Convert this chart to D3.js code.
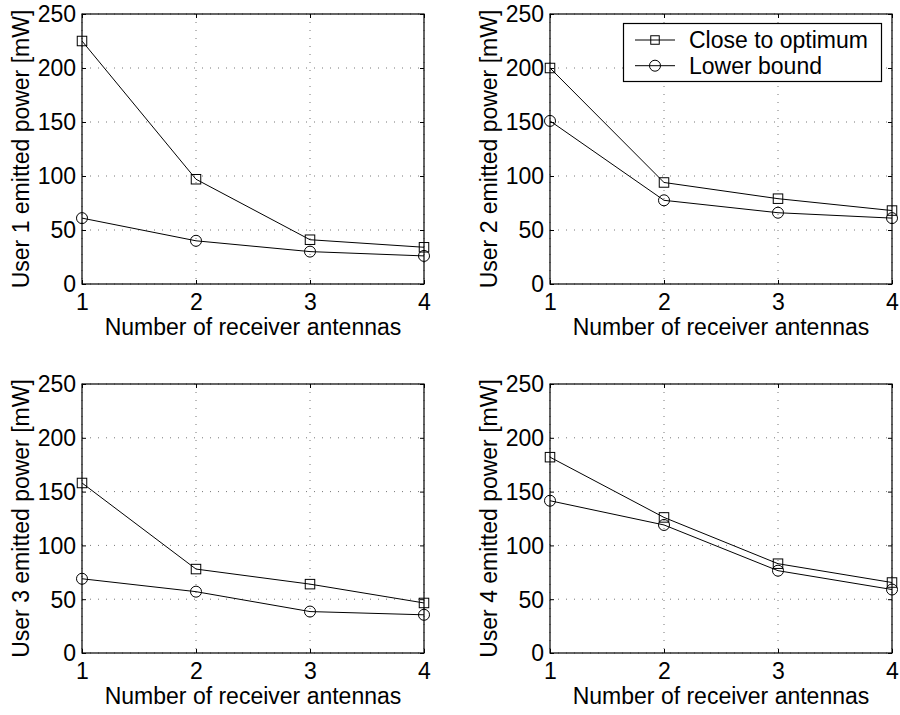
<!DOCTYPE html>
<html>
<head>
<meta charset="utf-8">
<script src="https://cdn.jsdelivr.net/npm/d3@7"></script>
<style>
  html, body { margin: 0; padding: 0; background: #fff; }
  svg text { font-family: "Liberation Sans", Arial, Helvetica, sans-serif; fill: #000; }
</style>
</head>
<body>
<svg id="chart" width="900" height="715"></svg>
<script>
// ---- data ----
const antennas = [1, 2, 3, 4];
const yTicks = [0, 50, 100, 150, 200, 250];
const xTicks = [1, 2, 3, 4];
const seriesNames = ["Close to optimum", "Lower bound"];
const userLabels = ["User 1 emitted power [mW]", "User 2 emitted power [mW]",
                    "User 3 emitted power [mW]", "User 4 emitted power [mW]"];
const xLabel = "Number of receiver antennas";

const user1Close = [225, 97, 41, 34];
const user1Lower = [61, 40, 30, 26];
const user2Close = [200, 94, 79, 68];
const user2Lower = [151, 77.5, 66, 61];
const user3Close = [158, 78, 64, 46.5];
const user3Lower = [69, 57, 38.5, 35.5];
const user4Close = [182, 126, 83, 65.5];
const user4Lower = [141.5, 119, 76.5, 59];

const closeSeries = [user1Close, user2Close, user3Close, user4Close];
const lowerSeries = [user1Lower, user2Lower, user3Lower, user4Lower];

// ---- layout ----
const panels = [
  { left: 82,  right: 424, top: 14,  bottom: 284 },
  { left: 550, right: 892, top: 14,  bottom: 284 },
  { left: 82,  right: 424, top: 384, bottom: 653 },
  { left: 550, right: 892, top: 384, bottom: 653 }
];
const fontSize = 23;
const svg = d3.select("#chart");

function drawSquare(g, x, y, s) {
  g.append("rect").attr("x", x - s / 2).attr("y", y - s / 2)
    .attr("width", s).attr("height", s)
    .attr("fill", "none").attr("stroke", "#000").attr("stroke-width", 1);
}
function drawCircle(g, x, y, r) {
  g.append("circle").attr("cx", x).attr("cy", y).attr("r", r)
    .attr("fill", "none").attr("stroke", "#000").attr("stroke-width", 1);
}

panels.forEach((p, i) => {
  const x = d3.scaleLinear().domain([1, 4]).range([p.left, p.right]);
  const y = d3.scaleLinear().domain([0, 250]).range([p.bottom, p.top]);
  const g = svg.append("g");

  // grid
  g.selectAll(".gx").data(xTicks).enter().append("line")
    .attr("x1", d => x(d)).attr("x2", d => x(d))
    .attr("y1", p.top).attr("y2", p.bottom)
    .attr("stroke", "#777").attr("stroke-width", 1).attr("stroke-dasharray", "1,7");
  g.selectAll(".gy").data(yTicks).enter().append("line")
    .attr("x1", p.left).attr("x2", p.right)
    .attr("y1", d => y(d)).attr("y2", d => y(d))
    .attr("stroke", "#777").attr("stroke-width", 1).attr("stroke-dasharray", "1,7");

  // axes
  const xa = g.append("g").attr("transform", `translate(0,${p.bottom})`)
    .call(d3.axisBottom(x).tickValues(xTicks).tickFormat(d3.format("d"))
      .tickSizeInner(-4).tickSizeOuter(0).tickPadding(9.5));
  const ya = g.append("g").attr("transform", `translate(${p.left},0)`)
    .call(d3.axisLeft(y).tickValues(yTicks).tickFormat(d3.format("d"))
      .tickSizeInner(-4).tickSizeOuter(0).tickPadding(6));
  const xt = g.append("g").attr("transform", `translate(0,${p.top})`)
    .call(d3.axisTop(x).tickValues(xTicks).tickFormat("").tickSizeInner(-4).tickSizeOuter(0));
  const yr = g.append("g").attr("transform", `translate(${p.right},0)`)
    .call(d3.axisRight(y).tickValues(yTicks).tickFormat("").tickSizeInner(-4).tickSizeOuter(0));
  [xa, ya, xt, yr].forEach(a => {
    a.selectAll(".domain").remove();
    a.selectAll("line").attr("stroke", "#000");
    a.selectAll("text").style("font-size", fontSize + "px")
      .style("font-family", '"Liberation Sans", Arial, sans-serif');
  });
  ya.selectAll("text").attr("dy", "0.34em");

  // frame
  g.append("rect").attr("x", p.left).attr("y", p.top)
    .attr("width", p.right - p.left).attr("height", p.bottom - p.top)
    .attr("fill", "none").attr("stroke", "#000").attr("stroke-width", 1.2);

  // lines
  const line = d3.line().x((d, j) => x(antennas[j])).y(d => y(d));
  [closeSeries[i], lowerSeries[i]].forEach(s => {
    g.append("path").datum(s).attr("d", line)
      .attr("fill", "none").attr("stroke", "#000").attr("stroke-width", 1);
  });
  closeSeries[i].forEach((v, j) => drawSquare(g, x(antennas[j]), y(v), 9.5));
  lowerSeries[i].forEach((v, j) => drawCircle(g, x(antennas[j]), y(v), 5.5));

  // labels
  g.append("text").attr("x", (p.left + p.right) / 2).attr("y", p.bottom + 51)
    .attr("text-anchor", "middle").style("font-size", fontSize + "px").text(xLabel);
  g.append("text")
    .attr("transform", `translate(${p.left - 53},${(p.top + p.bottom) / 2}) rotate(-90)`)
    .attr("text-anchor", "middle").style("font-size", fontSize + "px").text(userLabels[i]);

  // legend (panel 2)
  if (i === 1) {
    const lg = g.append("g");
    lg.append("rect").attr("x", 623.5).attr("y", 23.5).attr("width", 258).attr("height", 58)
      .attr("fill", "#fff").attr("stroke", "#000").attr("stroke-width", 1.2);
    const rows = [40, 65.7];
    seriesNames.forEach((name, k) => {
      const cy = rows[k];
      lg.append("line").attr("x1", 635).attr("x2", 675).attr("y1", cy).attr("y2", cy)
        .attr("stroke", "#000").attr("stroke-width", 1);
      if (k === 0) drawSquare(lg, 655, cy, 8.5); else drawCircle(lg, 655, cy, 5.5);
      lg.append("text").attr("x", 689).attr("y", cy).attr("dy", "0.35em")
        .style("font-size", fontSize + "px").text(name);
    });
  }
});
</script>
</body>
</html>
